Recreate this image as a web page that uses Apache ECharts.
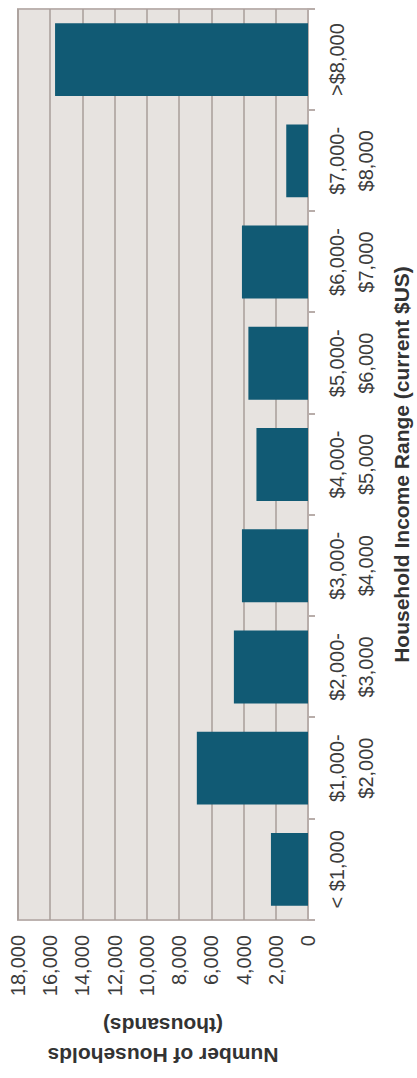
<!DOCTYPE html>
<html>
<head>
<meta charset="utf-8">
<script src="https://cdn.jsdelivr.net/npm/echarts@6/dist/echarts.min.js"></script>
<style>
html,body{margin:0;padding:0;background:#fff;overflow:hidden;}
#wrap{position:absolute;left:0;top:0;width:417px;height:1078px;overflow:hidden;}
#chart{position:absolute;width:1078px;height:417px;left:0;top:0;
  transform-origin:0 0;transform:translate(0px,1078px) rotate(-90deg);}
</style>
</head>
<body>
<div id="wrap"><div id="chart"></div></div>
<script>
const categories = ['< $1,000','$1,000-\n$2,000','$2,000-\n$3,000','$3,000-\n$4,000','$4,000-\n$5,000','$5,000-\n$6,000','$6,000-\n$7,000','$7,000-\n$8,000','>$8,000'];
const households = [2300, 6900, 4600, 4100, 3200, 3700, 4100, 1350, 15700];
const valueTicks = {min: 0, max: 18000, interval: 2000};
const categoryTitle = 'Household Income Range (current $US)';
const valueTitle = 'Number of Households\n(thousands)';

const chart = echarts.init(document.getElementById('chart'), null, {renderer: 'svg'});
chart.setOption({
  animation: false,
  backgroundColor: '#ffffff',
  grid: {left: 150, right: 9, top: 18, bottom: 107, show: true,
    backgroundColor: '#e7e3e0', borderColor: '#bdb3b0', borderWidth: 2},
  xAxis: {
    type: 'category', data: categories,
    axisLine: {lineStyle: {color: '#b8adaa', width: 2}},
    axisTick: {show: true, length: 7, lineStyle: {color: '#b8adaa', width: 2}},
    axisLabel: {color: '#3c3c3c', fontSize: 20, fontFamily: 'Liberation Sans, Arial, sans-serif',
      lineHeight: 29, margin: 14, interval: 0},
    name: categoryTitle, nameLocation: 'middle', nameGap: 83,
    nameTextStyle: {color: '#333', fontSize: 21, fontWeight: 'bold', fontFamily: 'Liberation Sans, Arial, sans-serif'}
  },
  yAxis: {
    type: 'value', min: valueTicks.min, max: valueTicks.max, interval: valueTicks.interval,
    axisLine: {show: false}, axisTick: {show: false},
    splitLine: {show: true, lineStyle: {color: '#a89e9a', width: 1.5}},
    axisLabel: {color: '#3c3c3c', fontSize: 20, fontFamily: 'Liberation Sans, Arial, sans-serif', margin: 15,
      formatter: v => v.toLocaleString('en-US')},
    name: valueTitle, nameLocation: 'middle', nameGap: 90, nameRotate: 90,
    nameTextStyle: {color: '#333', fontSize: 21, fontWeight: 'bold', lineHeight: 30, align: 'center',
      fontFamily: 'Liberation Sans, Arial, sans-serif'}
  },
  series: [{
    type: 'bar', data: households, barCategoryGap: '28%',
    itemStyle: {color: '#115a74'}
  }]
});
</script>
</body>
</html>
